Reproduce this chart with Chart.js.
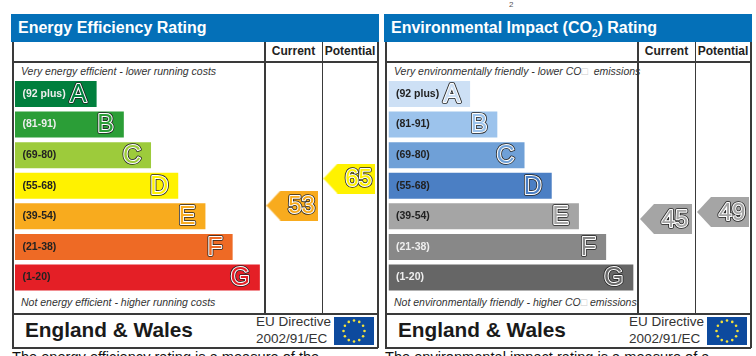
<!DOCTYPE html>
<html>
<head>
<meta charset="utf-8">
<title>Energy ratings</title>
<script src="https://cdn.jsdelivr.net/npm/chart.js@4"></script>
<style>
  html, body { margin: 0; padding: 0; background: #fff; overflow: hidden; }
  body { width: 756px; height: 356px; position: relative; font-family: "Liberation Sans", Arial, sans-serif; color: #222; }
  .abs { position: absolute; white-space: nowrap; }
  .line { position: absolute; background: #3a3a3a; }
  .head { background: #0470b8; color: #fff; font-weight: bold; font-size: 16px; line-height: 28px; height: 28px; padding-left: 7px; box-sizing: border-box; }
  .head sub { font-size: 10px; line-height: 0; }
  .col { font-weight: bold; font-size: 12px; line-height: 19px; text-align: center; }
  .note { font-style: italic; font-size: 10.5px; color: #333; line-height: 12px; }
  .tofu { color: #ccc; }
  .country { font-weight: bold; font-size: 20.8px; line-height: 26px; color: #1a1a1a; }
  .directive { font-size: 13.5px; line-height: 16.5px; color: #333; }
  .foot { font-size: 14.6px; line-height: 16px; color: #111; }
  canvas { position: absolute; }
</style>
</head>
<body>
<script>
const bandRanges = ["(92 plus)", "(81-91)", "(69-80)", "(55-68)", "(39-54)", "(21-38)", "(1-20)"];
const bandLetters = ["A", "B", "C", "D", "E", "F", "G"];
const bandLengths = [3, 4, 5, 6, 7, 8, 9];
const energyColours = ["#007f3d", "#2b9e37", "#9dcb3b", "#fff200", "#f8ab1e", "#ee6a25", "#e41f26"];
const energyLabelColours = ["#eee", "#eee", "#222", "#222", "#222", "#222", "#222"];
const impactColours = ["#cde0f5", "#9cc3ec", "#6fa0d7", "#4b7fc4", "#a5a5a5", "#888888", "#666666"];
const impactLabelColours = ["#222", "#222", "#222", "#222", "#222", "#eee", "#eee"];
const columnNames = ["Current", "Potential"];
const energyScores = [53, 65];
const energyScoreColours = ["#f8ab1e", "#fff200"];
const impactScores = [45, 49];
const impactScoreColours = ["#a5a5a5", "#a5a5a5"];

function addEl(cls, left, top, width, height, html) {
  const el = document.createElement("div");
  el.className = cls;
  el.style.left = left + "px";
  el.style.top = top + "px";
  if (width) el.style.width = width + "px";
  if (height) el.style.height = height + "px";
  if (html) el.innerHTML = html;
  document.body.appendChild(el);
  return el;
}

function arrowImage(colour) {
  const c = document.createElement("canvas");
  c.width = 52;
  c.height = 30;
  const g = c.getContext("2d");
  g.fillStyle = colour;
  g.beginPath();
  g.moveTo(0, 15);
  g.lineTo(14, 0);
  g.lineTo(52, 0);
  g.lineTo(52, 30);
  g.lineTo(14, 30);
  g.closePath();
  g.fill();
  return c;
}

function ringText(ctx, text, x, y, fill) {
  ctx.lineJoin = "round";
  ctx.strokeStyle = "#222";
  ctx.lineWidth = 3.6;
  ctx.strokeText(text, x, y);
  ctx.strokeStyle = "#fff";
  ctx.lineWidth = 2;
  ctx.strokeText(text, x, y);
  ctx.fillStyle = fill;
  ctx.fillText(text, x, y);
}

const labelPlugin = {
  id: "ratingLabels",
  afterDatasetsDraw(chart) {
    const ctx = chart.ctx;
    const bars = chart.getDatasetMeta(0).data;
    const barSet = chart.data.datasets[0];
    ctx.save();
    ctx.textBaseline = "middle";
    bars.forEach(function (bar, i) {
      ctx.textAlign = "left";
      ctx.font = "bold 10.5px 'Liberation Sans', Arial";
      ctx.fillStyle = barSet.labelColours[i];
      ctx.fillText(bandRanges[i], chart.chartArea.left + 7.5, bar.y);
      ctx.textAlign = "right";
      ctx.font = "25px 'Liberation Sans', Arial";
      ringText(ctx, bandLetters[i], bar.x - 10, bar.y + 1, barSet.backgroundColor[i]);
    });
    const scoreSet = chart.data.datasets[1];
    chart.getDatasetMeta(1).data.forEach(function (pt, i) {
      ctx.textAlign = "center";
      ctx.font = "24px 'Liberation Sans', Arial";
      ringText(ctx, String(scoreSet.data[i].y), pt.x + 9, pt.y + 1, scoreSet.fills[i]);
    });
    ctx.restore();
  },
};

function drawPanel(p) {
  const x = p.left;
  addEl("abs head", x - 1, 14, 368, 0, p.title);
  addEl("line", x, 42, 1.5, 306);
  addEl("line", x + 365, 42, 1.5, 306);
  addEl("line", x, 61, 366, 1.5);
  addEl("line", x, 313, 366, 1.5);
  addEl("line", x, 347, 366, 1.5);
  addEl("line", x + 252, 42, 1.5, 271);
  addEl("line", x + 309.5, 42, 1.5, 271);
  addEl("abs col", x + 253, 42, 57, 19, columnNames[0]);
  addEl("abs col", x + 311, 42, 54, 19, columnNames[1]);
  addEl("abs note", x + 9, 65, 0, 0, p.topNote);
  addEl("abs note", x + 9, 296, 0, 0, p.bottomNote);
  addEl("abs country", x + 13, 317, 0, 0, "England &amp; Wales");
  addEl("abs directive", x + 244, 314, 0, 0, "EU Directive<br>2002/91/EC");
  addEl("abs foot", x, 349, 0, 0, p.foot);

  const flag = document.createElementNS("http://www.w3.org/2000/svg", "svg");
  flag.setAttribute("width", 40);
  flag.setAttribute("height", 28);
  flag.style.cssText = "position:absolute;top:317px;left:" + (x + 322) + "px;background:#0d4a9e";
  for (let a = 0; a < 12; a++) {
    const dot = document.createElementNS("http://www.w3.org/2000/svg", "circle");
    dot.setAttribute("cx", 20 + 10.5 * Math.cos(a * Math.PI / 6));
    dot.setAttribute("cy", 14 + 10.5 * Math.sin(a * Math.PI / 6));
    dot.setAttribute("r", 1.3);
    dot.setAttribute("fill", "#f5e23a");
    flag.appendChild(dot);
  }
  document.body.appendChild(flag);

  const canvas = document.createElement("canvas");
  canvas.style.left = x + "px";
  canvas.style.top = "62px";
  canvas.style.width = "366px";
  canvas.style.height = "251px";
  canvas.width = 366;
  canvas.height = 251;
  document.body.appendChild(canvas);

  new Chart(canvas, {
    data: {
      labels: bandLetters,
      datasets: [
        {
          type: "bar",
          indexAxis: "y",
          grouped: false,
          data: bandLengths,
          backgroundColor: p.colours,
          labelColours: p.labelColours,
          barPercentage: 0.85,
          categoryPercentage: 1,
          xAxisID: "x",
          yAxisID: "y",
        },
        {
          type: "scatter",
          data: p.scores.map(function (s, i) { return { x: i, y: s }; }),
          fills: p.scoreColours,
          pointStyle: p.scoreColours.map(arrowImage),
          xAxisID: "xCol",
          yAxisID: "yScore",
        },
      ],
    },
    options: {
      responsive: false,
      animation: false,
      layout: { autoPadding: false, padding: { left: p.padLeft, right: 5 - p.padLeft, top: 16.7, bottom: 20.2 } },
      plugins: { legend: { display: false }, tooltip: { enabled: false } },
      scales: {
        x: { type: "linear", display: false, min: 0, max: 13.27 },
        y: { type: "category", display: false, offset: true },
        xCol: { type: "linear", display: false, min: -4.868, max: 1.465 },
        yScore: { type: "linear", display: false, min: p.scoreMin, max: p.scoreMax },
      },
    },
    plugins: [labelPlugin],
  });
}

drawPanel({
  left: 12,
  padLeft: 3,
  title: "Energy Efficiency Rating",
  topNote: "Very energy efficient - lower running costs",
  bottomNote: "Not energy efficient - higher running costs",
  foot: "The energy efficiency rating is a measure of the",
  colours: energyColours,
  labelColours: energyLabelColours,
  scores: energyScores,
  scoreColours: energyScoreColours,
  scoreMin: 14.2,
  scoreMax: 109.4,
});
drawPanel({
  left: 385,
  padLeft: 3.5,
  title: "Environmental Impact (CO<sub>2</sub>) Rating",
  topNote: 'Very environmentally friendly - lower CO<span class="tofu">□</span> &nbsp;emissions',
  bottomNote: 'Not environmentally friendly - higher CO<span class="tofu">□</span> emissions',
  foot: "The environmental impact rating is a measure of a",
  colours: impactColours,
  labelColours: impactLabelColours,
  scores: impactScores,
  scoreColours: impactScoreColours,
  scoreMin: 2.8,
  scoreMax: 125.2,
});
addEl("abs", 509, -7, 0, 0, '<span style="font-size:8px;color:#555">2</span>');
</script>
</body>
</html>
